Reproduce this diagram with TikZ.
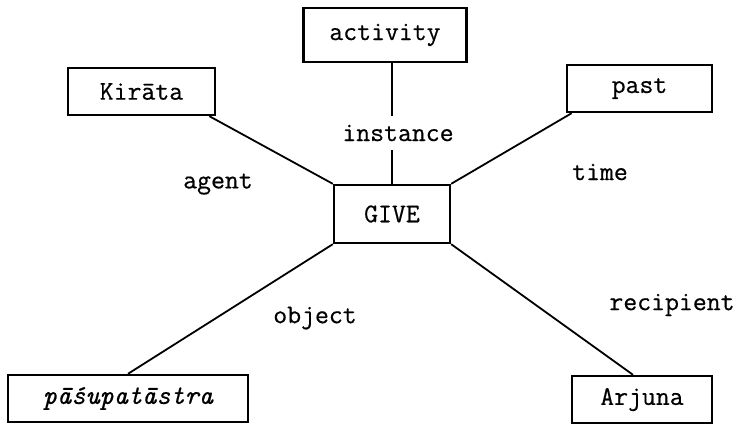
\documentclass[tikz,border=0pt]{standalone}
\usepackage{fontspec}
\newfontfamily\typewriter[FakeBold=0.5]{Latin Modern Mono}
\usetikzlibrary{calc}
\begin{document}
\begin{tikzpicture}[x=1pt,y=-1pt,
  txt/.style={font=\typewriter\fontsize{27}{27}\selectfont},
  box/.style={txt,draw,line width=2.4pt,rectangle,inner sep=0pt},
  rel/.style={txt,inner sep=0pt},
  link/.style={line width=1.8pt}]
  \useasboundingbox (0,0) rectangle (744,426);
  % concept boxes
  \node[box,minimum width=163pt,minimum height=54pt] (activity) at (385,35) {activity};
  \node[box,minimum width=147pt,minimum height=47pt] (kirata) at (141.5,91.5) {Kirāta};
  \node[box,minimum width=145pt,minimum height=47pt] (past) at (639.5,88.5) {past};
  \node[box,minimum width=116pt,minimum height=58pt] (give) at (392,214) {GIVE};
  \node[box,minimum width=240pt,minimum height=47pt] (pasu) at (128,398.5) {\itshape pāśupatāstra};
  \node[box,minimum width=140pt,minimum height=47pt] (arjuna) at (642,399.5) {Arjuna};
  % case relations
  \draw[link] (give.north) -- (activity.south -| give.north);
  \draw[link] (give.north west) -- (kirata.-20);
  \draw[link] (give.north east) -- (past.200);
  \draw[link] (give.south west) -- (pasu.north);
  \draw[link] (give.south east) -- (arjuna.110);
  % relation labels
  \node[rel,fill=white,inner xsep=2pt,inner ysep=9pt] (linst) at (398,133) {instance};
  \node[rel] (lagent) at (218,184) {agent};
  \node[rel] (ltime) at (600,172) {time};
  \node[rel] (lobj) at (315,318) {object};
  \node[rel] (lrec) at (672,305) {recipient};
\end{tikzpicture}
\end{document}
